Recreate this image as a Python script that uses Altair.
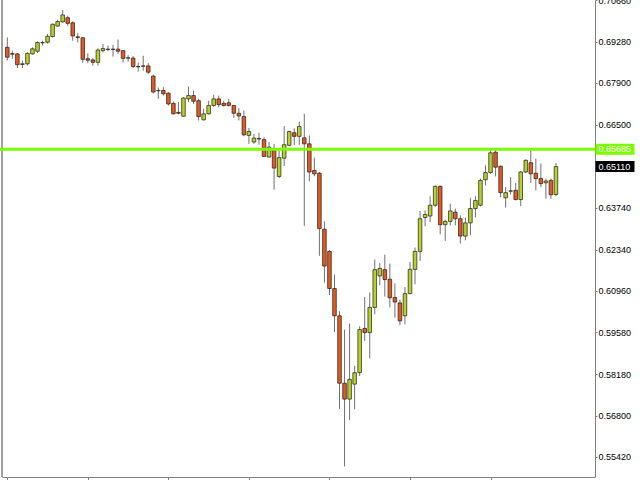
import altair as alt
import pandas as pd

# OHLC quotes, oldest bar first
opens = [0.6909, 0.6888, 0.6887, 0.6854, 0.6854, 0.6887, 0.6896, 0.6924, 0.6926, 0.6945,
         0.6980, 0.6994, 0.7008, 0.6991, 0.6944, 0.6941, 0.6871, 0.6867, 0.6859, 0.6898,
         0.6903, 0.6903, 0.6903, 0.6898, 0.6874, 0.6873, 0.6845, 0.6847, 0.6847, 0.6813,
         0.6765, 0.6765, 0.6756, 0.6722, 0.6692, 0.6679, 0.6737, 0.6748, 0.6731, 0.6667,
         0.6687, 0.6715, 0.6737, 0.6722, 0.6724, 0.6715, 0.6689, 0.6678, 0.6615, 0.6593,
         0.6605, 0.6601, 0.6543, 0.6571, 0.6478, 0.6539, 0.6582, 0.6624, 0.6612, 0.6607,
         0.6587, 0.6498, 0.6489, 0.6302, 0.6228, 0.6104, 0.6013, 0.5788, 0.5735, 0.5785,
         0.5823, 0.5971, 0.5957, 0.6041, 0.6146, 0.6167, 0.6135, 0.6074, 0.6056, 0.6013,
         0.6087, 0.6168, 0.6228, 0.6341, 0.6346, 0.6382, 0.6445, 0.6317, 0.6328, 0.6359,
         0.6337, 0.6279, 0.6323, 0.6371, 0.6382, 0.6467, 0.6491, 0.6559, 0.6512, 0.6407,
         0.6430, 0.6432, 0.6401, 0.6493, 0.6524, 0.6489, 0.6471, 0.6457, 0.6465, 0.6418]
highs = [0.6942, 0.6898, 0.6890, 0.6865, 0.6892, 0.6909, 0.6929, 0.6931, 0.6954, 0.6989,
         0.7001, 0.7034, 0.7015, 0.6996, 0.6956, 0.6942, 0.6889, 0.6874, 0.6906, 0.6920,
         0.6915, 0.6917, 0.6935, 0.6900, 0.6883, 0.6880, 0.6858, 0.6881, 0.6856, 0.6818,
         0.6775, 0.6776, 0.6759, 0.6728, 0.6726, 0.6742, 0.6778, 0.6765, 0.6737, 0.6704,
         0.6731, 0.6751, 0.6748, 0.6731, 0.6737, 0.6717, 0.6706, 0.6698, 0.6640, 0.6620,
         0.6624, 0.6609, 0.6593, 0.6587, 0.6567, 0.6646, 0.6631, 0.6639, 0.6661, 0.6687,
         0.6615, 0.6541, 0.6493, 0.6328, 0.6232, 0.6151, 0.6028, 0.5967, 0.5987, 0.5846,
         0.5978, 0.6076, 0.6091, 0.6201, 0.6189, 0.6217, 0.6187, 0.6121, 0.6067, 0.6109,
         0.6193, 0.6241, 0.6363, 0.6365, 0.6412, 0.6448, 0.6448, 0.6334, 0.6387, 0.6371,
         0.6348, 0.6341, 0.6407, 0.6412, 0.6471, 0.6515, 0.6565, 0.6567, 0.6515, 0.6443,
         0.6476, 0.6456, 0.6496, 0.6535, 0.6563, 0.6537, 0.6521, 0.6471, 0.6471, 0.6523]
lows = [0.6865, 0.6871, 0.6840, 0.6840, 0.6848, 0.6885, 0.6890, 0.6915, 0.6922, 0.6942,
        0.6978, 0.6991, 0.6981, 0.6931, 0.6926, 0.6858, 0.6856, 0.6848, 0.6848, 0.6892,
        0.6896, 0.6878, 0.6887, 0.6858, 0.6861, 0.6840, 0.6828, 0.6831, 0.6820, 0.6755,
        0.6737, 0.6748, 0.6715, 0.6685, 0.6685, 0.6678, 0.6726, 0.6720, 0.6665, 0.6665,
        0.6685, 0.6711, 0.6709, 0.6711, 0.6711, 0.6674, 0.6665, 0.6612, 0.6587, 0.6587,
        0.6584, 0.6543, 0.6541, 0.6434, 0.6473, 0.6513, 0.6579, 0.6582, 0.6584, 0.6313,
        0.6462, 0.6479, 0.6213, 0.6124, 0.6082, 0.5959, 0.5702, 0.5510, 0.5665, 0.5701,
        0.5812, 0.5929, 0.5871, 0.6018, 0.6115, 0.6077, 0.6041, 0.6007, 0.5982, 0.5985,
        0.6085, 0.6118, 0.6196, 0.6312, 0.6326, 0.6376, 0.6285, 0.6263, 0.6315, 0.6315,
        0.6254, 0.6265, 0.6282, 0.6341, 0.6378, 0.6448, 0.6487, 0.6478, 0.6409, 0.6374,
        0.6418, 0.6398, 0.6379, 0.6489, 0.6456, 0.6432, 0.6443, 0.6404, 0.6404, 0.6412]
closes = [0.6876, 0.6886, 0.6851, 0.6852, 0.6889, 0.6904, 0.6925, 0.6925, 0.6946, 0.6986,
          0.6995, 0.7017, 0.6989, 0.6947, 0.6942, 0.6869, 0.6866, 0.6859, 0.6900, 0.6905,
          0.6902, 0.6902, 0.6896, 0.6872, 0.6873, 0.6845, 0.6844, 0.6846, 0.6826, 0.6760,
          0.6764, 0.6754, 0.6720, 0.6687, 0.6689, 0.6740, 0.6748, 0.6729, 0.6678, 0.6687,
          0.6715, 0.6737, 0.6718, 0.6715, 0.6715, 0.6689, 0.6680, 0.6617, 0.6628, 0.6606,
          0.6603, 0.6545, 0.6576, 0.6506, 0.6541, 0.6584, 0.6628, 0.6612, 0.6645, 0.6587,
          0.6493, 0.6487, 0.6304, 0.6179, 0.6104, 0.6013, 0.5788, 0.5735, 0.5801, 0.5823,
          0.5967, 0.5957, 0.6041, 0.6167, 0.6171, 0.6134, 0.6073, 0.6059, 0.5996, 0.6087,
          0.6168, 0.6228, 0.6337, 0.6351, 0.6382, 0.6445, 0.6317, 0.6328, 0.6363, 0.6337,
          0.6279, 0.6323, 0.6371, 0.6398, 0.6465, 0.6491, 0.6557, 0.6509, 0.6424, 0.6424,
          0.6429, 0.6401, 0.6493, 0.6532, 0.6487, 0.6471, 0.6454, 0.6463, 0.6417, 0.6511]

level_price = 0.65685          # horizontal level
last_price = closes[-1]        # current quote tag
price_ticks = [0.7066, 0.6928, 0.6790, 0.6650, 0.6374, 0.6234,
               0.6096, 0.5958, 0.5818, 0.5680, 0.5542]
time_ticks = [0, 16, 32, 48, 64, 80, 96]

BULL = "#b9d028"
BEAR = "#e45a1e"
FRAME = "#808080"

W, H = 593, 477

bars = pd.DataFrame({
    "i": list(range(len(opens))),
    "open": opens,
    "high": highs,
    "low": lows,
    "close": closes,
})
bars["dir"] = ["up" if c >= o else "down" for o, c in zip(opens, closes)]

tags = pd.DataFrame({
    "price": [level_price, last_price],
    "label": [f"{level_price:.5f}", f"{last_price:.5f}"],
    "bg": ["#7cfc00", "#000000"],
})

x_enc = alt.X(
    "i:Q",
    scale=alt.Scale(domain=[-0.06, 115.76], nice=False, zero=False),
    axis=alt.Axis(values=time_ticks, labels=False, title=None, grid=False,
                  domainColor=FRAME, tickColor=FRAME, tickSize=3),
)
y_scale = alt.Scale(domain=[0.5475, 0.7067], nice=False, zero=False)
y_axis = alt.Axis(orient="right", values=price_ticks, format=".5f", title=None,
                  grid=False, domainColor=FRAME, tickColor=FRAME, tickSize=2,
                  labelPadding=1, labelFont="Liberation Sans", labelFontSize=9,
                  labelColor="#000000", labelOverlap=False)

base = alt.Chart(bars)

frame_left = alt.Chart(tags).mark_rule(color=FRAME, strokeWidth=1).encode(
    x=alt.value(0), y=alt.value(0), y2=alt.value(H)
)

wicks = base.mark_rule(color="#707070", strokeWidth=1).encode(
    x=x_enc,
    y=alt.Y("low:Q", scale=y_scale, axis=y_axis),
    y2="high:Q",
)

bodies = base.mark_bar(size=3.6, stroke="#1e1e1e", strokeWidth=0.7).encode(
    x=x_enc,
    y=alt.Y("open:Q", scale=y_scale, axis=y_axis),
    y2="close:Q",
    color=alt.Color("dir:N", scale=alt.Scale(domain=["up", "down"], range=[BULL, BEAR]),
                    legend=None),
)

level_line = alt.Chart(tags).transform_filter(
    alt.datum.bg == "#7cfc00"
).mark_rule(color="#7cfc00", strokeWidth=3).encode(
    x=alt.value(-2), x2=alt.value(W),
    y=alt.Y("price:Q", scale=y_scale, axis=y_axis),
)

tag_boxes = alt.Chart(tags).mark_rule(strokeWidth=11, strokeCap="butt").encode(
    x=alt.value(W + 0.5), x2=alt.value(W + 39.5),
    y=alt.Y("price:Q", scale=y_scale, axis=y_axis),
    color=alt.Color("bg:N", scale=None),
)

tag_text = alt.Chart(tags).mark_text(
    align="left", baseline="middle", color="#ffffff",
    font="Liberation Sans", fontSize=9,
).encode(
    x=alt.value(W + 3.5),
    y=alt.Y("price:Q", scale=y_scale, axis=y_axis),
    text="label:N",
)

chart = alt.layer(
    frame_left, wicks, bodies, level_line, tag_boxes, tag_text
).properties(
    width=W, height=H,
    autosize=alt.AutoSizeParams(type="none"),
    padding={"left": 2, "top": 0, "right": 45, "bottom": 3},
    background="#ffffff",
).configure_view(stroke=None)

chart.save("out.html", embed_options={"renderer": "svg", "actions": False})
